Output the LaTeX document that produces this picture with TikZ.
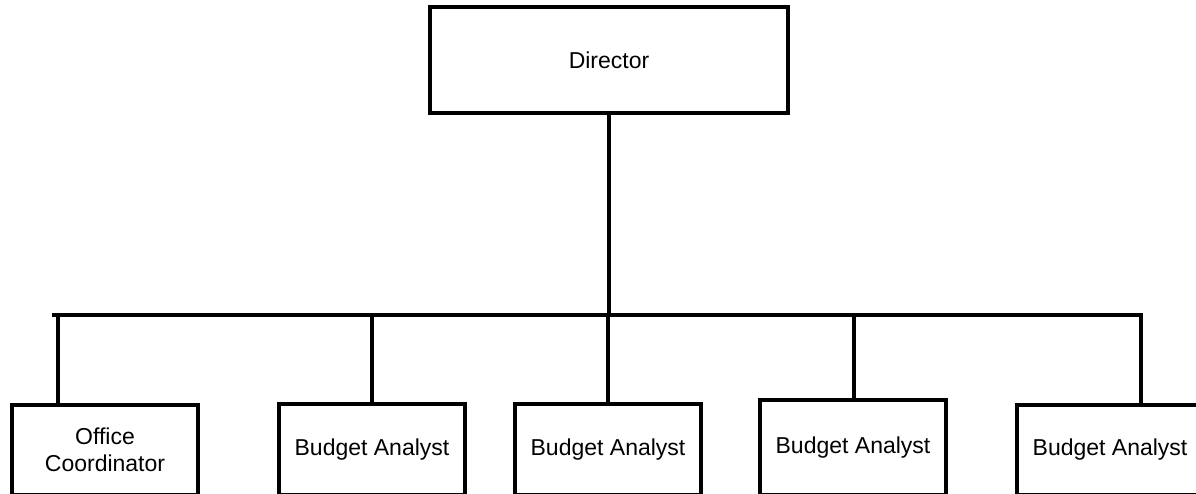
\documentclass[tikz,border=0pt]{standalone}
\usepackage{fontspec}
\setmainfont{Liberation Sans}
\begin{document}
\begin{tikzpicture}[x=1pt,y=-1pt,
  box/.style={draw=black, line width=4pt, fill=white, minimum width=186pt, minimum height=90pt, inner sep=0pt, align=center, font=\fontsize{23}{27.5}\selectfont},
  conn/.style={draw=black, line width=3.4pt}]
\useasboundingbox (0,0) rectangle (1196,494);
\clip (0,0) rectangle (1196,494);
\fill[white] (0,0) rectangle (1196,494);
\node[box, minimum width=358pt, minimum height=106pt] (dir) at (609,60) {Director};
\node[box] (oc) at (105,450) {Office\\Coordinator};
\node[box, minimum height=91pt] (ba1) at (372,449.5) {Budget Analyst};
\node[box, minimum height=91pt] (ba2) at (608,449.5) {Budget Analyst};
\node[box, minimum height=95pt] (ba3) at (853,447.5) {Budget Analyst};
\node[box, minimum width=240pt] (ba4) at (1137,450) {\hspace*{-54pt}Budget Analyst};
\coordinate (busL) at (52,315);
\coordinate (busR) at (1143,315);
\coordinate (hub) at (609,315);
\coordinate (d0) at (58,315);
\coordinate (d1) at (372,315);
\coordinate (d2) at (608,315);
\coordinate (d3) at (854,315);
\coordinate (d4) at (1141,315);
\draw[conn] (dir.south -| hub) -- (hub);
\draw[conn] (busL) -- (busR);
\draw[conn] (d0) -- (d0 |- oc.north);
\draw[conn] (d1) -- (d1 |- ba1.north);
\draw[conn] (d2) -- (d2 |- ba2.north);
\draw[conn] (d3) -- (d3 |- ba3.north);
\draw[conn] (d4) -- (d4 |- ba4.north);
\end{tikzpicture}
\end{document}
